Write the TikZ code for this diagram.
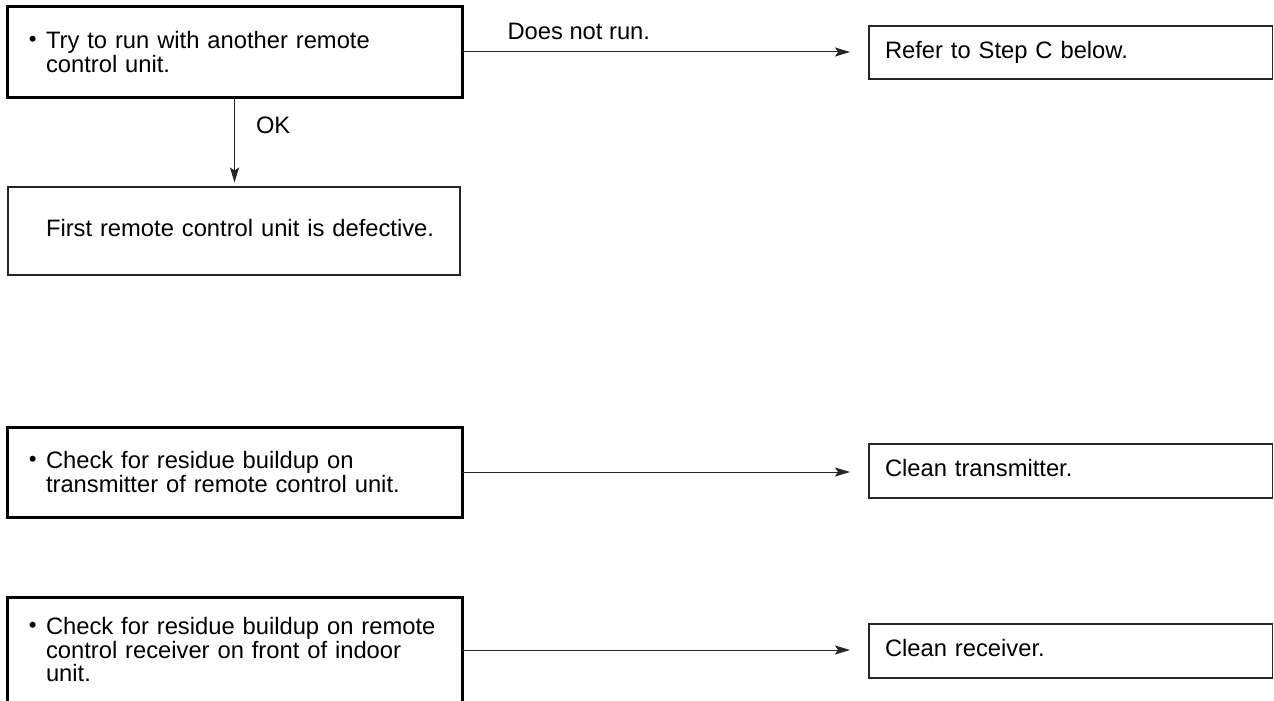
\documentclass[tikz,border=0pt]{standalone}
\usepackage{fontspec}
\setmainfont{Liberation Sans}
\usetikzlibrary{arrows.meta}

\newcommand{\bul}{\llap{\raisebox{2.5pt}{\fontsize{22pt}{22pt}\selectfont\textbullet}\hspace{9.5pt}}}

\tikzset{
  chkbox/.style={draw, line width=3pt, outer sep=0pt, anchor=north west, inner xsep=39pt, text width=377pt, minimum width=455pt, align=left},
  resbox/.style={draw=black!85, line width=1.3pt, outer sep=0pt, anchor=north west, inner xsep=16pt, text width=371.5pt, minimum width=403.5pt, align=left},
  flow/.style={-{Stealth[length=15pt,width=9pt,inset=3pt]}, line width=1pt, black!85, text=black},
}

\begin{document}
\begin{tikzpicture}[x=1pt, y=-1pt, font=\fontsize{23.75pt}{23.5pt}\selectfont]
    \useasboundingbox (0,0) rectangle (1274,701);
    % first check
    \node[chkbox, minimum height=90pt] (try) at (7,7) {\bul Try to run with another remote\\control unit.};
    \node[resbox, minimum height=53pt] (stepc) at (869,26) {Refer to Step C below.};
    \node[resbox, minimum height=88pt, minimum width=452pt, inner xsep=38pt, text width=376pt, text depth=6pt] (defect) at (8,187) {\mbox{First remote control unit is defective.}};
    \draw[flow, shorten >=19pt] (try.east) -- (try.east -| stepc.west) node[pos=0, anchor=south west, inner sep=0pt, xshift=45pt, yshift=12pt] {Does not run.};
    \draw[flow, shorten >=4.5pt] (try.south) -- (try.south |- defect.north) node[pos=0.31, anchor=west, inner sep=0pt, xshift=21pt] {OK};
    % transmitter
    \node[chkbox, minimum height=90pt] (chktx) at (7,427) {\bul Check for residue buildup on\\transmitter of remote control unit.};
    \node[resbox, minimum height=54pt, text depth=6pt] (cleantx) at (869,444) {Clean transmitter.};
    \draw[flow, shorten >=19pt] (chktx.east) -- (chktx.east -| cleantx.west);
    % receiver (box runs off the page)
    \node[chkbox, minimum height=106pt] (chkrx) at (7,597) {\bul\mbox{Check for residue buildup on remote}\\control receiver on front of indoor\\unit.};
    \node[resbox, minimum height=54pt, text depth=6pt] (cleanrx) at (869,624) {Clean receiver.};
    \draw[flow, shorten >=19pt] (chkrx.east) -- (chkrx.east -| cleanrx.west);
\end{tikzpicture}
\end{document}
